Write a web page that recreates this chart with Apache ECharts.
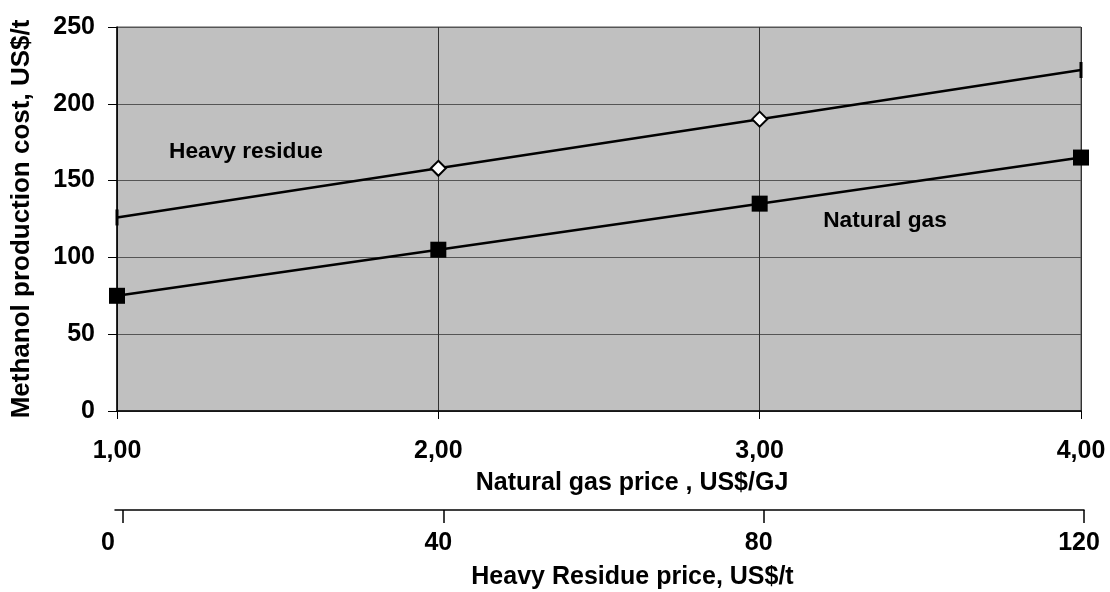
<!DOCTYPE html>
<html>
<head>
<meta charset="utf-8">
<script src="https://cdn.jsdelivr.net/npm/echarts@6/dist/echarts.min.js"></script>
<style>html,body{margin:0;padding:0;background:#fff}#c{width:1110px;height:592px}</style>
</head>
<body>
<div id="c"></div>
<script>
const gasPrice = [1, 2, 3, 4];
const heavyResidueCost = [126, 158, 190, 222];
const naturalGasCost = [75, 105, 135, 165];
const residuePriceTicks = [0, 40, 80, 120];
const yTicks = [0, 50, 100, 150, 200, 250];

const FONT = '"Liberation Sans", Arial, sans-serif';
const chart = echarts.init(document.getElementById('c'), null, {renderer: 'canvas'});

const hrData = heavyResidueCost.map((v, i) => {
  const edge = (i === 0 || i === heavyResidueCost.length - 1);
  return {
    value: [gasPrice[i], v],
    symbol: edge ? 'rect' : 'diamond',
    symbolSize: edge ? [3, 16] : [15, 15],
    itemStyle: edge ? {color: '#000', borderWidth: 0} : {color: '#fff', borderColor: '#000', borderWidth: 2}
  };
});
const ngData = naturalGasCost.map((v, i) => [gasPrice[i], v]);

const tickFont = {fontFamily: FONT, fontWeight: 'bold', fontSize: 25, color: '#000'};

chart.setOption({
  animation: false,
  backgroundColor: '#fff',
  grid: [
    {left: 117, right: 29, top: 27, height: 384, show: true, backgroundColor: '#C0C0C0', borderColor: '#555', borderWidth: 1},
    {left: 115, width: 969, top: 510, height: 0}
  ],
  xAxis: [
    {
      type: 'value', gridIndex: 0, min: 1, max: 4, interval: 1,
      axisLine: {show: true, lineStyle: {color: '#000', width: 1.5}},
      axisTick: {show: true, length: 8, lineStyle: {color: '#000'}},
      splitLine: {show: true, lineStyle: {color: '#333', width: 1}},
      axisLabel: Object.assign({margin: 28, formatter: v => v.toFixed(2).replace('.', ',')}, tickFont),
      name: 'Natural gas price , US$/GJ', nameLocation: 'middle', nameGap: 60,
      nameTextStyle: {fontFamily: FONT, fontWeight: 'bold', fontSize: 25, color: '#000', padding: [0, 0, 0, 66]}
    },
    {
      type: 'value', gridIndex: 1, min: -1, max: 120, position: 'bottom',
      axisLine: {show: true, onZero: false, lineStyle: {color: '#000', width: 1.5}},
      axisTick: {show: true, length: 13, customValues: residuePriceTicks, lineStyle: {color: '#000', width: 1.5}},
      splitLine: {show: false},
      axisLabel: Object.assign({
        margin: 21, customValues: residuePriceTicks,
        formatter: v => (v === 0 ? '{a|' + v + '}' : '{b|' + v + '}'),
        rich: {
          a: {fontFamily: FONT, fontWeight: 'bold', fontSize: 25, color: '#000', padding: [0, 30, 0, 0]},
          b: {fontFamily: FONT, fontWeight: 'bold', fontSize: 25, color: '#000', padding: [0, 10, 0, 0]}
        }
      }, tickFont),
      name: 'Heavy Residue price, US$/t', nameLocation: 'middle', nameGap: 55,
      nameTextStyle: {fontFamily: FONT, fontWeight: 'bold', fontSize: 25, color: '#000', padding: [0, 0, 0, 66]}
    }
  ],
  yAxis: [
    {
      type: 'value', gridIndex: 0, min: 0, max: 250, interval: 50,
      axisLine: {show: true, lineStyle: {color: '#000', width: 1.5}},
      axisTick: {show: true, length: 9, lineStyle: {color: '#000'}},
      splitLine: {show: true, lineStyle: {color: '#555', width: 1}},
      axisLabel: Object.assign({margin: 22}, tickFont),
      name: 'Methanol production cost, US$/t', nameLocation: 'middle', nameGap: 82, nameRotate: 90,
      nameTextStyle: {fontFamily: FONT, fontWeight: 'bold', fontSize: 26, color: '#000'}
    },
    {type: 'value', gridIndex: 1, show: false}
  ],
  series: [
    {
      name: 'Heavy residue', type: 'line', xAxisIndex: 0, yAxisIndex: 0,
      data: hrData, clip: false,
      lineStyle: {color: '#000', width: 2.5}, z: 5
    },
    {
      name: 'Natural gas', type: 'line', xAxisIndex: 0, yAxisIndex: 0,
      data: ngData, clip: false, symbol: 'rect', symbolSize: 16,
      itemStyle: {color: '#000'},
      lineStyle: {color: '#000', width: 2.5}, z: 5
    }
  ],
  graphic: [
    {type: 'text', x: 246, y: 152, z: 10, style: {text: 'Heavy residue', fontFamily: FONT, fontWeight: 'bold', fontSize: 22.7, fill: '#000', align: 'center', verticalAlign: 'middle'}},
    {type: 'text', x: 885, y: 221, z: 10, style: {text: 'Natural gas', fontFamily: FONT, fontWeight: 'bold', fontSize: 22.7, fill: '#000', align: 'center', verticalAlign: 'middle'}}
  ]
});
</script>
</body>
</html>
